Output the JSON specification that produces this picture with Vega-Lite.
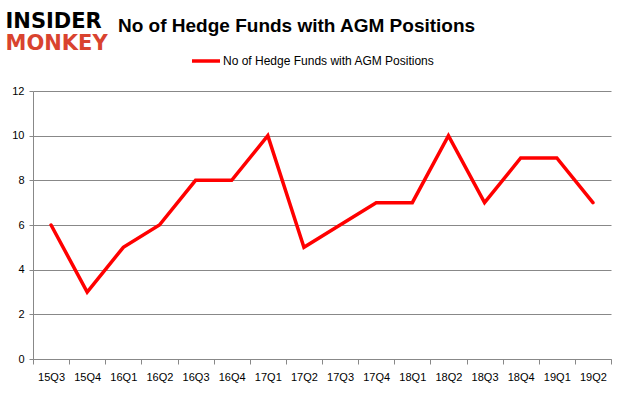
{
  "$schema": "https://vega.github.io/schema/vega-lite/v6.json",
  "width": 578,
  "height": 268,
  "autosize": {"type": "none"},
  "padding": {"left": 33, "top": 91, "right": 14, "bottom": 36},
  "background": "white",
  "title": {
    "text": "No of Hedge Funds with AGM Positions",
    "anchor": "start",
    "frame": "group",
    "dx": 85,
    "offset": -41,
    "font": "Liberation Sans",
    "fontSize": 19,
    "fontWeight": "bold",
    "color": "#000000",
    "baseline": "alphabetic"
  },
  "data": {
    "values": [
      {"quarter": "15Q3", "funds": 6, "series": "No of Hedge Funds with AGM Positions"},
      {"quarter": "15Q4", "funds": 3, "series": "No of Hedge Funds with AGM Positions"},
      {"quarter": "16Q1", "funds": 5, "series": "No of Hedge Funds with AGM Positions"},
      {"quarter": "16Q2", "funds": 6, "series": "No of Hedge Funds with AGM Positions"},
      {"quarter": "16Q3", "funds": 8, "series": "No of Hedge Funds with AGM Positions"},
      {"quarter": "16Q4", "funds": 8, "series": "No of Hedge Funds with AGM Positions"},
      {"quarter": "17Q1", "funds": 10, "series": "No of Hedge Funds with AGM Positions"},
      {"quarter": "17Q2", "funds": 5, "series": "No of Hedge Funds with AGM Positions"},
      {"quarter": "17Q3", "funds": 6, "series": "No of Hedge Funds with AGM Positions"},
      {"quarter": "17Q4", "funds": 7, "series": "No of Hedge Funds with AGM Positions"},
      {"quarter": "18Q1", "funds": 7, "series": "No of Hedge Funds with AGM Positions"},
      {"quarter": "18Q2", "funds": 10, "series": "No of Hedge Funds with AGM Positions"},
      {"quarter": "18Q3", "funds": 7, "series": "No of Hedge Funds with AGM Positions"},
      {"quarter": "18Q4", "funds": 9, "series": "No of Hedge Funds with AGM Positions"},
      {"quarter": "19Q1", "funds": 9, "series": "No of Hedge Funds with AGM Positions"},
      {"quarter": "19Q2", "funds": 7, "series": "No of Hedge Funds with AGM Positions"}
    ]
  },
  "mark": {"type": "line", "strokeWidth": 3.5, "strokeJoin": "miter", "strokeCap": "round"},
  "encoding": {
    "x": {
      "field": "quarter",
      "type": "ordinal",
      "sort": null,
      "scale": {"type": "band", "paddingInner": 0, "paddingOuter": 0},
      "axis": {
        "title": "MONKEY",
        "titleColor": "#d9432f",
        "titleFont": "DejaVu Sans",
        "titleFontSize": 21,
        "titleFontWeight": "bold",
        "titleAngle": 0,
        "titleAlign": "left",
        "titleBaseline": "alphabetic",
        "titleX": -28,
        "titleY": -310,
        "labelAngle": 0,
        "labelFont": "Liberation Sans",
        "labelFontSize": 11,
        "labelColor": "#000000",
        "labelPadding": 7,
        "tickBand": "extent",
        "tickSize": 5,
        "tickColor": "#888888",
        "domainColor": "#888888",
        "grid": false
      }
    },
    "y": {
      "field": "funds",
      "type": "quantitative",
      "scale": {"domain": [0, 12]},
      "axis": {
        "title": "INSIDER",
        "titleColor": "#000000",
        "titleFont": "DejaVu Sans",
        "titleFontSize": 21,
        "titleFontWeight": "bold",
        "titleAngle": 0,
        "titleAlign": "left",
        "titleBaseline": "alphabetic",
        "titleX": -28,
        "titleY": -64,
        "values": [0, 2, 4, 6, 8, 10, 12],
        "labelFont": "Liberation Sans",
        "labelFontSize": 11,
        "labelColor": "#000000",
        "labelPadding": 5,
        "tickSize": 4,
        "tickColor": "#888888",
        "domainColor": "#888888",
        "grid": true,
        "gridColor": "#888888",
        "gridWidth": 1
      }
    },
    "color": {
      "field": "series",
      "type": "nominal",
      "scale": {"range": ["#ff0000"]},
      "legend": {
        "title": null,
        "orient": "none",
        "legendX": 157,
        "legendY": -46,
        "symbolType": "stroke",
        "symbolStrokeWidth": 3.5,
        "symbolSize": 784,
        "labelFont": "Liberation Sans",
        "labelFontSize": 12,
        "labelColor": "#000000",
        "labelOffset": 1,
        "labelLimit": 0
      }
    }
  },
  "config": {
    "view": {"stroke": null}
  }
}
